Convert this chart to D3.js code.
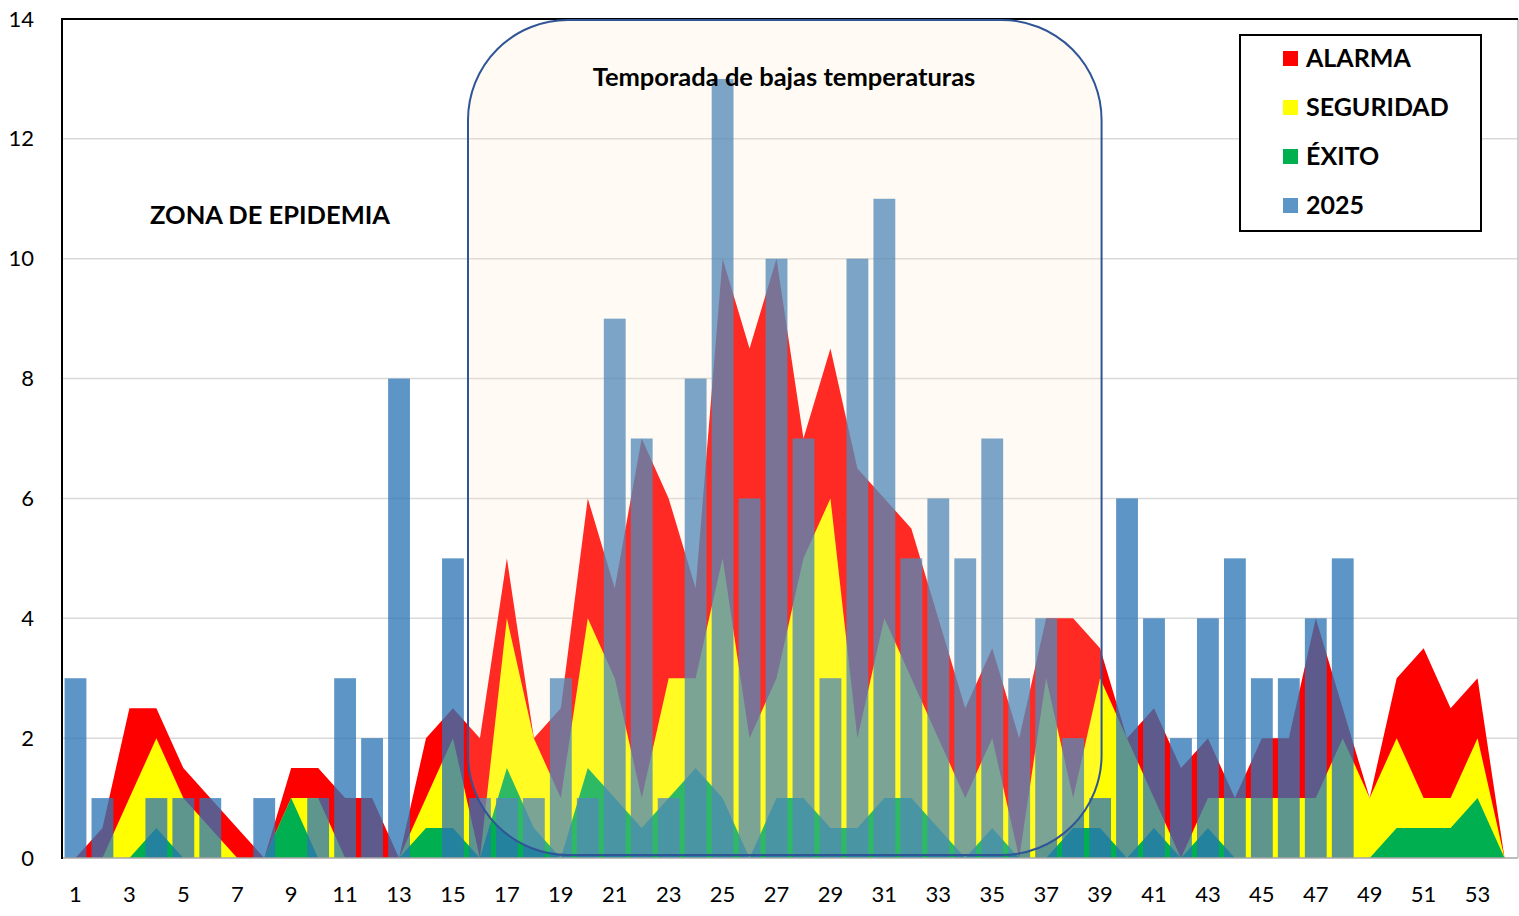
<!DOCTYPE html>
<html>
<head>
<meta charset="utf-8">
<script src="https://cdn.jsdelivr.net/npm/d3@7"></script>
<style>
  body { margin: 0; background: #fff; }
  text { font-family: Lato, "Open Sans", sans-serif; }
</style>
</head>
<body>
<div id="chart"></div>
<script>
// weeks 1..54
var weeks = d3.range(1, 55);
var alarma = [0, 0.5, 2.5, 2.5, 1.5, 1, 0.5, 0, 1.5, 1.5, 1, 1, 0, 2, 2.5, 2, 5, 2, 2.5, 6,
  4.5, 7, 6, 4.5, 10, 8.5, 10, 7, 8.5, 6.5, 6, 5.5, 4, 2.5, 3.5, 2, 4, 4, 3.5, 2,
  2.5, 1.5, 2, 1, 2, 2, 4, 2.5, 1, 3, 3.5, 2.5, 3, 0];
var seguridad = [0, 0, 1, 2, 1, 0.5, 0, 0, 1, 1, 0, 0, 0, 1, 2, 0, 4, 2, 1, 4,
  3, 1, 3, 3, 5, 2, 3, 5, 6, 2, 4, 3, 2, 1, 2, 0, 3, 1, 3, 2,
  1, 0, 1, 1, 1, 1, 1, 2, 1, 2, 1, 1, 2, 0];
var exito = [0, 0, 0, 0.5, 0, 0, 0, 0, 1, 0, 0, 0, 0, 0.5, 0.5, 0, 1.5, 0.5, 0, 1.5,
  1, 0.5, 1, 1.5, 1, 0, 1, 1, 0.5, 0.5, 1, 1, 0.5, 0, 0.5, 0, 0, 0.5, 0.5, 0,
  0.5, 0, 0.5, 0, 0, 0, 0, 0, 0, 0.5, 0.5, 0.5, 1, 0];
var casos2025 = [3, 1, 0, 1, 1, 1, 0, 1, 0, 1, 3, 2, 8, 0, 5, 1, 1, 1, 3, 1,
  9, 7, 1, 8, 13, 6, 10, 7, 3, 10, 11, 5, 6, 5, 7, 3, 4, 2, 1, 6,
  4, 2, 4, 5, 3, 3, 4, 5];
var xTicks = d3.range(1, 54, 2);
var yTicks = d3.range(0, 15, 2);
var legendNames = ["ALARMA", "SEGURIDAD", "ÉXITO", "2025"];

var W = 1519, H = 916;
var plotLeft = 62, plotRight = 1518, plotTop = 19, plotBottom = 858;

var svg = d3.select("#chart")
  .append("svg")
  .attr("width", W)
  .attr("height", H);

var x = d3.scaleBand()
  .domain(weeks)
  .range([plotLeft, plotRight])
  .paddingInner(0.19)
  .paddingOuter(0.095);

var y = d3.scaleLinear()
  .domain([0, 14])
  .range([plotBottom, plotTop]);

var cx = function(d, i) { return x(weeks[i]) + x.bandwidth() / 2; };

// gridlines
svg.append("g")
  .selectAll("line")
  .data(yTicks.filter(function(d) { return d > 0 && d < 14; }))
  .enter().append("line")
  .attr("x1", plotLeft)
  .attr("x2", plotRight)
  .attr("y1", function(d) { return y(d); })
  .attr("y2", function(d) { return y(d); })
  .attr("stroke", "#d9d9d9")
  .attr("stroke-width", 1.5);

// areas
function drawArea(values, color) {
  svg.append("path")
    .datum(values)
    .attr("fill", color)
    .attr("d", d3.area()
      .x(cx)
      .y0(y(0))
      .y1(function(d) { return y(d); })
    );
}
drawArea(alarma, "#ff0000");
drawArea(seguridad, "#ffff00");
drawArea(exito, "#00b050");

// 2025 bars
svg.append("g")
  .selectAll("rect")
  .data(casos2025)
  .enter().append("rect")
  .attr("x", function(d, i) { return x(weeks[i]); })
  .attr("y", function(d) { return y(d); })
  .attr("width", x.bandwidth())
  .attr("height", function(d) { return y(0) - y(d); })
  .attr("fill", "#2e75b6")
  .attr("fill-opacity", 0.77);

// plot frame
svg.append("line")
  .attr("x1", plotLeft).attr("x2", plotRight)
  .attr("y1", plotBottom).attr("y2", plotBottom)
  .attr("stroke", "#a6a6a6").attr("stroke-width", 1.5);
svg.append("line")
  .attr("x1", plotRight).attr("x2", plotRight)
  .attr("y1", plotTop).attr("y2", plotBottom)
  .attr("stroke", "#bfbfbf").attr("stroke-width", 1.5);
svg.append("line")
  .attr("x1", plotLeft).attr("x2", plotRight)
  .attr("y1", plotTop).attr("y2", plotTop)
  .attr("stroke", "#000").attr("stroke-width", 2);
svg.append("line")
  .attr("x1", plotLeft).attr("x2", plotLeft)
  .attr("y1", plotTop - 1).attr("y2", plotBottom + 1)
  .attr("stroke", "#000").attr("stroke-width", 2);

// axes
var xAxis = svg.append("g")
  .attr("transform", "translate(0," + plotBottom + ")")
  .call(d3.axisBottom(x).tickValues(xTicks).tickSize(0).tickPadding(28));
xAxis.select(".domain").remove();
xAxis.selectAll("text")
  .style("font-size", "22px")
  .attr("fill", "#000");

var yAxis = svg.append("g")
  .attr("transform", "translate(" + plotLeft + ",0)")
  .call(d3.axisLeft(y).tickValues(yTicks).tickSize(0).tickPadding(28));
yAxis.select(".domain").remove();
yAxis.selectAll("text")
  .style("font-size", "22px")
  .attr("fill", "#000");

// low temperature season box (semi transparent, on top)
var boxL = x(16) - 1, boxR = x(39) + x.bandwidth() / 2 + 1.5;
svg.append("rect")
  .attr("x", boxL)
  .attr("y", plotTop + 1)
  .attr("width", boxR - boxL)
  .attr("height", plotBottom - 3 - plotTop - 1)
  .attr("rx", 100)
  .attr("ry", 100)
  .attr("fill", "#ffe9c2")
  .attr("fill-opacity", 0.18)
  .attr("stroke", "#2f5597")
  .attr("stroke-width", 2);

svg.append("text")
  .attr("x", 784)
  .attr("y", 86)
  .attr("text-anchor", "middle")
  .style("font-size", "25.5px")
  .style("font-weight", "bold")
  .text("Temporada de bajas temperaturas");

svg.append("text")
  .attr("x", 150)
  .attr("y", 224)
  .style("font-size", "25.5px")
  .style("font-weight", "bold")
  .text("ZONA DE EPIDEMIA");

// legend
var legend = svg.append("g");
legend.append("rect")
  .attr("x", 1240).attr("y", 35)
  .attr("width", 241).attr("height", 196)
  .attr("fill", "#fff")
  .attr("stroke", "#000")
  .attr("stroke-width", 2);

var legendColors = ["#ff0000", "#ffff00", "#00b050", "#2e75b6"];
var items = legend.selectAll(".item")
  .data(legendNames)
  .enter().append("g")
  .attr("class", "item")
  .attr("transform", function(d, i) { return "translate(1283," + (58 + i * 49) + ")"; });
items.append("rect")
  .attr("x", 0).attr("y", -7)
  .attr("width", 15).attr("height", 15)
  .attr("fill", function(d, i) { return legendColors[i]; })
  .attr("fill-opacity", function(d, i) { return i == 3 ? 0.77 : 1; });
items.append("text")
  .attr("x", 23)
  .attr("y", 9)
  .style("font-size", "25px")
  .style("font-weight", "bold")
  .text(function(d) { return d; });
</script>
</body>
</html>
